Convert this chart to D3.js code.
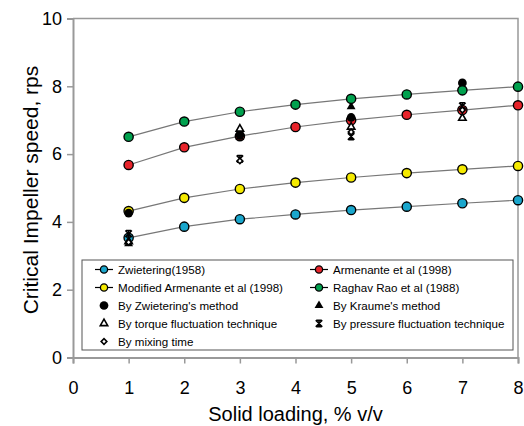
<!DOCTYPE html>
<html>
<head>
<meta charset="utf-8">
<script src="https://cdn.jsdelivr.net/npm/d3@7"></script>
<style>
  html, body { margin: 0; padding: 0; background: #fff; }
  svg { display: block; font-family: "Liberation Sans", Arial, sans-serif; }
</style>
</head>
<body>
<svg id="chart" width="524" height="426"></svg>
<script>
// Solid loading (% v/v) at which the correlations are evaluated
const loading = [1, 2, 3, 4, 5, 6, 7, 8];

// Correlation predictions, rps
const zwietering1958   = [3.53, 3.86, 4.08, 4.22, 4.35, 4.45, 4.55, 4.64];
const armenante1998    = [5.68, 6.20, 6.53, 6.80, 7.00, 7.16, 7.30, 7.44];
const modArmenante1998 = [4.32, 4.71, 4.97, 5.16, 5.31, 5.44, 5.55, 5.65];
const raghavRao1988    = [6.51, 6.96, 7.25, 7.46, 7.63, 7.76, 7.88, 7.99];

// Experimental measurements, rps
const expLoading      = [1, 3, 5, 7];
const byZwietering    = [4.26, 6.56, 7.08, 8.10];
const byKraume        = [3.36, 6.50, 7.40, 7.98];
const byTorque        = [3.42, 6.74, 6.80, 7.06];
const byPressure      = [3.65, 5.86, 6.52, 7.42];
const byMixingTime    = [3.40, 5.80, 6.65, 7.30];

const xTicks = [0, 1, 2, 3, 4, 5, 6, 7, 8];
const yTicks = [0, 2, 4, 6, 8, 10];

const svg = d3.select("#chart");
const plot = { left: 73, right: 518, top: 18.5, bottom: 357.5 };

const x = d3.scaleLinear().domain([0, 8]).range([plot.left, plot.right]);
const y = d3.scaleLinear().domain([0, 10]).range([plot.bottom, plot.top]);

const axisGrey = "#999";

// Frame: top and right edges of the plot area
svg.append("path")
  .attr("d", `M${plot.left},${plot.top}H${plot.right}V${plot.bottom}`)
  .attr("fill", "none").attr("stroke", axisGrey).attr("stroke-width", 1.5);

// Axes
const yAxis = svg.append("g")
  .attr("transform", `translate(${plot.left},0)`)
  .call(d3.axisLeft(y).tickValues(yTicks).tickFormat(d3.format("d")).tickSizeOuter(0).tickSize(6).tickPadding(5));
const xAxis = svg.append("g")
  .attr("transform", `translate(0,${plot.bottom})`)
  .call(d3.axisBottom(x).tickValues(xTicks).tickFormat(d3.format("d")).tickSizeOuter(0).tickSize(6).tickPadding(18));

[yAxis, xAxis].forEach(g => {
  g.select(".domain").attr("stroke", axisGrey).attr("stroke-width", 2);
  g.selectAll(".tick line").attr("stroke", axisGrey).attr("stroke-width", 1.5);
  g.selectAll(".tick text").attr("fill", "#000").style("font-size", "18px");
});

// Axis titles
svg.append("text")
  .attr("x", (plot.left + plot.right) / 2).attr("y", 421)
  .attr("text-anchor", "middle").style("font-size", "20px")
  .text("Solid loading, % v/v");
svg.append("text")
  .attr("transform", `translate(38,190) rotate(-90)`)
  .attr("text-anchor", "middle").style("font-size", "21px")
  .text("Critical Impeller speed, rps");

// Marker shapes for the experimental methods
const circleSym = d3.symbol().type(d3.symbolCircle).size(60);
const triSym = d3.symbol().type(d3.symbolTriangle).size(34);
const openTriSym = d3.symbol().type(d3.symbolTriangle).size(24);
const diamondSym = d3.symbol().type(d3.symbolSquare).size(16);

function star(g, cx, cy, r) {
  g.append("path")
    .attr("d", `M${cx - r},${cy - r}L${cx + r},${cy + r}M${cx - r},${cy + r}L${cx + r},${cy - r}M${cx},${cy - r}V${cy + r}M${cx - r * 0.8},${cy - r}H${cx + r * 0.8}M${cx - r * 0.8},${cy + r}H${cx + r * 0.8}`)
    .attr("stroke", "#000").attr("stroke-width", 1.5).attr("fill", "none");
}

function drawMarker(g, kind, cx, cy) {
  if (kind === "zwietering") {
    g.append("path").attr("d", circleSym()).attr("transform", `translate(${cx},${cy})`).attr("fill", "#000");
  } else if (kind === "kraume") {
    g.append("path").attr("d", triSym()).attr("transform", `translate(${cx},${cy})`).attr("fill", "#000");
  } else if (kind === "torque") {
    g.append("path").attr("d", openTriSym()).attr("transform", `translate(${cx},${cy})`)
      .attr("fill", "#fff").attr("stroke", "#000").attr("stroke-width", 1.6);
  } else if (kind === "pressure") {
    star(g, cx, cy, 3.3);
  } else if (kind === "mixing") {
    g.append("path").attr("d", diamondSym()).attr("transform", `translate(${cx},${cy}) rotate(45)`)
      .attr("fill", "#fff").attr("stroke", "#000").attr("stroke-width", 1.6);
  }
}

// Correlation curves
const models = [
  { name: "Zwietering(1958)", values: zwietering1958, color: "#1aa6cc" },
  { name: "Armenante et al (1998)", values: armenante1998, color: "#e8242b" },
  { name: "Modified Armenante et al (1998)", values: modArmenante1998, color: "#f5ea00" },
  { name: "Raghav Rao et al (1988)", values: raghavRao1988, color: "#00a14e" }
];
const experiments = [
  { name: "By Zwietering's method", values: byZwietering, kind: "zwietering" },
  { name: "By Kraume's method", values: byKraume, kind: "kraume" },
  { name: "By torque fluctuation technique", values: byTorque, kind: "torque" },
  { name: "By pressure fluctuation technique", values: byPressure, kind: "pressure" },
  { name: "By mixing time", values: byMixingTime, kind: "mixing" }
];

const line = d3.line().x((d, i) => x(loading[i])).y(d => y(d));

function drawModel(m) {
  const g = svg.append("g");
  g.append("path").attr("d", line(m.values)).attr("fill", "none").attr("stroke", "#777").attr("stroke-width", 1.2);
  g.selectAll("circle").data(m.values).join("circle")
    .attr("cx", (d, i) => x(loading[i])).attr("cy", d => y(d)).attr("r", 4.6)
    .attr("fill", m.color).attr("stroke", "#000").attr("stroke-width", 1.4);
}

drawModel(models[0]);
drawModel(models[1]);
drawModel(models[2]);

const expG = svg.append("g");
experiments.forEach(e => {
  e.values.forEach((v, i) => drawMarker(expG, e.kind, x(expLoading[i]), y(v)));
});

drawModel(models[3]);

// Legend
const lg = svg.append("g");
lg.append("rect").attr("x", 82).attr("y", 260).attr("width", 431).attr("height", 90)
  .attr("fill", "#fff").attr("stroke", "#555").attr("stroke-width", 1);

const rowY = [269.5, 287.5, 305.5, 323.5, 341.5];
const colX = [104, 319];
const legendItems = [
  { item: models[0], col: 0, row: 0, type: "model" },
  { item: models[1], col: 1, row: 0, type: "model" },
  { item: models[2], col: 0, row: 1, type: "model" },
  { item: models[3], col: 1, row: 1, type: "model" },
  { item: experiments[0], col: 0, row: 2, type: "exp" },
  { item: experiments[1], col: 1, row: 2, type: "exp" },
  { item: experiments[2], col: 0, row: 3, type: "exp" },
  { item: experiments[3], col: 1, row: 3, type: "exp" },
  { item: experiments[4], col: 0, row: 4, type: "exp" }
];
legendItems.forEach(li => {
  const cx = colX[li.col], cy = rowY[li.row];
  if (li.type === "model") {
    lg.append("line").attr("x1", cx - 9).attr("x2", cx + 9).attr("y1", cy).attr("y2", cy)
      .attr("stroke", "#000").attr("stroke-width", 1.2);
    lg.append("circle").attr("cx", cx).attr("cy", cy).attr("r", 3.6)
      .attr("fill", li.item.color).attr("stroke", "#000").attr("stroke-width", 1.3);
  } else {
    drawMarker(lg, li.item.kind, cx, cy);
  }
  lg.append("text").attr("x", cx + 14).attr("y", cy + 4.5)
    .style("font-size", "11.6px").attr("fill", "#000").text(li.item.name);
});
</script>
</body>
</html>
